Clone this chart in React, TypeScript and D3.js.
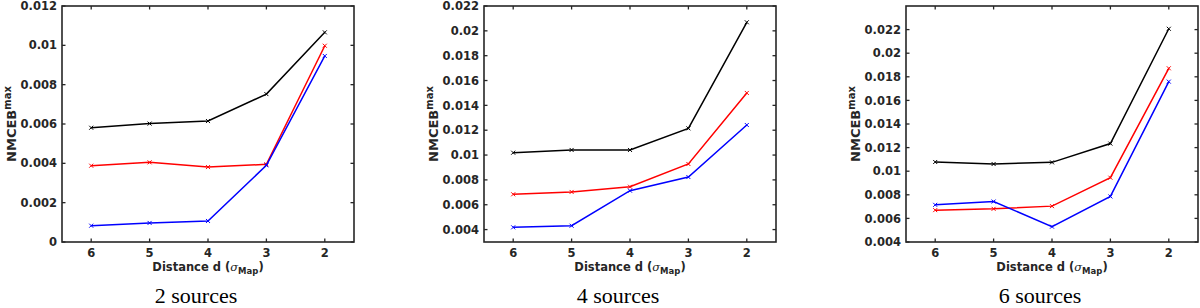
import React from 'react';
import * as d3 from 'd3';

// distances on the x axis (reversed: 6 on the left, 2 on the right)
const distances = [6, 5, 4, 3, 2];

// 2 sources
const black2 = [0.00581, 0.00602, 0.00615, 0.00752, 0.01066];
const red2 = [0.00388, 0.00405, 0.00381, 0.00395, 0.00998];
const blue2 = [0.00083, 0.00097, 0.00107, 0.0039, 0.00946];

// 4 sources
const black4 = [0.01019, 0.01041, 0.01041, 0.01215, 0.02069];
const red4 = [0.00684, 0.00703, 0.00745, 0.00928, 0.015];
const blue4 = [0.00418, 0.00431, 0.00713, 0.00823, 0.01242];

// 6 sources
const black6 = [0.01078, 0.01061, 0.01075, 0.01234, 0.02207];
const red6 = [0.0067, 0.00681, 0.00704, 0.00945, 0.01872];
const blue6 = [0.00715, 0.00743, 0.0053, 0.00786, 0.01759];

const yTicks2 = [0, 0.002, 0.004, 0.006, 0.008, 0.01, 0.012];
const yTicks4 = [0.004, 0.006, 0.008, 0.01, 0.012, 0.014, 0.016, 0.018, 0.02, 0.022];
const yTicks6 = [0.004, 0.006, 0.008, 0.01, 0.012, 0.014, 0.016, 0.018, 0.02, 0.022];

const captions = ['2 sources', '4 sources', '6 sources'];

const panels = [
  { left: 62, domain: [0, 0.012], ticks: yTicks2, series: [black2, red2, blue2], caption: captions[0] },
  { left: 484, domain: [0.003, 0.022], ticks: yTicks4, series: [black4, red4, blue4], caption: captions[1] },
  { left: 906, domain: [0.004, 0.024], ticks: yTicks6, series: [black6, red6, blue6], caption: captions[2] },
];

const colors = ['#000000', '#ff0000', '#0000ff'];

const W = 292;
const TOP = 6;
const BOTTOM = 242;
const AXIS = '#262626';
const FONT = '"DejaVu Sans", sans-serif';
const TL = 3.5;

function fmt(v: number) {
  if (v === 0) return '0';
  return String(+v.toFixed(4));
}

function Panel({ left, domain, ticks, series, caption }: any) {
  const x = d3.scaleLinear().domain([6.5, 1.5]).range([left, left + W]);
  const y = d3.scaleLinear().domain(domain).range([BOTTOM, TOP]);
  const line = d3.line<number>()
    .x((d, i) => x(distances[i]))
    .y(d => y(d));
  const cx = left + W / 2;

  return (
    <g>
      {/* box */}
      <rect x={left} y={TOP} width={W} height={BOTTOM - TOP} fill="none" stroke={AXIS} strokeWidth={1.6} />
      {/* x ticks */}
      {distances.map(d => (
        <g key={'x' + d}>
          <line x1={x(d)} x2={x(d)} y1={BOTTOM} y2={BOTTOM - TL} stroke={AXIS} strokeWidth={1.3} />
          <line x1={x(d)} x2={x(d)} y1={TOP} y2={TOP + TL} stroke={AXIS} strokeWidth={1.3} />
          <text x={x(d)} y={257} textAnchor="middle" fontFamily={FONT} fontWeight="bold" fontSize={11.5} fill={AXIS}>{d}</text>
        </g>
      ))}
      {/* y ticks */}
      {ticks.map((t: number) => (
        <g key={'y' + t}>
          <line x1={left} x2={left + TL} y1={y(t)} y2={y(t)} stroke={AXIS} strokeWidth={1.3} />
          <line x1={left + W} x2={left + W - TL} y1={y(t)} y2={y(t)} stroke={AXIS} strokeWidth={1.3} />
          <text x={left - 5} y={y(t)} dy="0.36em" textAnchor="end" fontFamily={FONT} fontWeight="bold" fontSize={11.5} fill={AXIS}>{fmt(t)}</text>
        </g>
      ))}
      {/* series */}
      {series.map((s: number[], k: number) => (
        <g key={'s' + k}>
          <path d={line(s) || ''} fill="none" stroke={colors[k]} strokeWidth={1.5} />
          {s.map((v, i) => {
            const px = x(distances[i]);
            const py = y(v);
            return (
              <path key={i} d={`M${px - 2},${py - 2}L${px + 2},${py + 2}M${px - 2},${py + 2}L${px + 2},${py - 2}`}
                stroke={colors[k]} strokeWidth={1} />
            );
          })}
        </g>
      ))}
      {/* y label */}
      <text transform={`translate(${left - 46},${(TOP + BOTTOM) / 2}) rotate(-90)`} textAnchor="middle"
        fontFamily={FONT} fontWeight="bold" fontSize={13} fill={AXIS}>
        NMCEB<tspan fontSize={10} dy={-5.5}>max</tspan>
      </text>
      {/* x label */}
      <text x={cx} y={271} textAnchor="middle" fontFamily={FONT} fontWeight="bold" fontSize={11.5} fill={AXIS}>
        Distance d (<tspan fontStyle="italic" fontWeight="normal" fontFamily={'"DejaVu Serif", serif'}>σ</tspan>
        <tspan fontSize={8.5} dy={3}>Map</tspan><tspan dy={-3}>)</tspan>
      </text>
      {/* caption */}
      <text x={cx - 12} y={303} textAnchor="middle" fontFamily={'"Liberation Serif", "Times New Roman", serif'} fontSize={22} fill="#000">{caption}</text>
    </g>
  );
}

export default function App() {
  return (
    <svg width={1200} height={308} style={{ position: 'absolute', left: 0, top: 0, background: '#fff' }}>
      {panels.map((p, i) => <Panel key={i} {...p} />)}
    </svg>
  );
}
